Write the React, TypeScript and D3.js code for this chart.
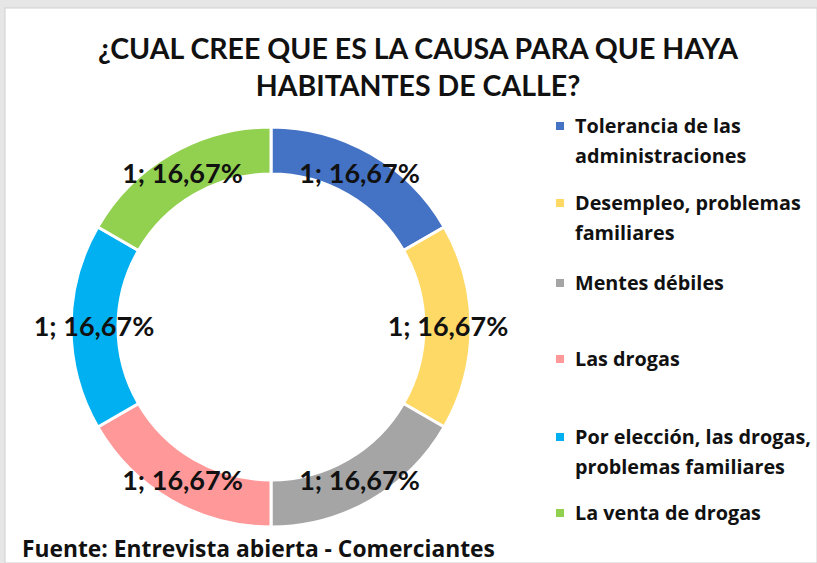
import React, { useEffect, useRef } from 'react';
import * as d3 from 'd3';

const categories = [
  'Tolerancia de las administraciones',
  'Desempleo, problemas familiares',
  'Mentes débiles',
  'Las drogas',
  'Por elección, las drogas, problemas familiares',
  'La venta de drogas',
];
const legendLines = [
  ['Tolerancia de las', 'administraciones'],
  ['Desempleo, problemas', 'familiares'],
  ['Mentes débiles'],
  ['Las drogas'],
  ['Por elección, las drogas,', 'problemas familiares'],
  ['La venta de drogas'],
];
const values = [1, 1, 1, 1, 1, 1];
const colors = ['#4472C4', '#FFD966', '#A5A5A5', '#FF9999', '#00B0F0', '#92D050'];
const legendY = [126, 203, 283, 359, 437, 513];
const titleLines = ['¿CUAL CREE QUE ES LA CAUSA PARA QUE HAYA', 'HABITANTES DE CALLE?'];
const source = 'Fuente: Entrevista abierta - Comerciantes';

export default function App() {
  const svgRef = useRef<SVGSVGElement>(null);

  useEffect(() => {
    if (!svgRef.current) return;
    const W = 817, H = 563;
    const svg = d3.select(svgRef.current);
    svg.selectAll('*').remove();
    svg.attr('width', W).attr('height', H);

    const font = 'Lato, "Open Sans", sans-serif';
    const font2 = '"Open Sans", sans-serif';

    svg.append('rect').attr('width', W).attr('height', H).attr('fill', '#e6e6e6');
    svg.append('rect')
      .attr('x', 5).attr('y', 8).attr('width', W - 5).attr('height', H - 8)
      .attr('fill', '#fff').attr('stroke', '#d0d0d0');

    // title
    svg.append('g').selectAll('text')
      .data(titleLines)
      .enter()
      .append('text')
      .attr('x', 418)
      .attr('y', (d, i) => 59 + i * 37)
      .attr('text-anchor', 'middle')
      .style('font-family', font)
      .style('font-weight', 'bold')
      .style('font-size', '28.5px')
      .style('fill', '#111')
      .text(d => d);

    const cx = 271, cy = 327;
    const outer = 200, inner = 153;
    const pie = d3.pie<number>().sort(null).value(d => d);
    const arcs = pie(values);
    const arc = d3.arc<d3.PieArcDatum<number>>().innerRadius(inner).outerRadius(outer);
    const labelArc = d3.arc<d3.PieArcDatum<number>>().innerRadius(177).outerRadius(177);
    const total = d3.sum(values);

    const g = svg.append('g').attr('transform', `translate(${cx},${cy})`);
    g.selectAll('path')
      .data(arcs)
      .enter()
      .append('path')
      .attr('d', arc)
      .attr('fill', (d, i) => colors[i])
      .attr('stroke', '#fff')
      .attr('stroke-width', 3);

    g.selectAll('text')
      .data(arcs)
      .enter()
      .append('text')
      .attr('transform', d => `translate(${labelArc.centroid(d)})`)
      .attr('text-anchor', 'middle')
      .attr('dy', '0.35em')
      .style('font-family', font)
      .style('font-weight', 'bold')
      .style('font-size', '27px')
      .style('fill', '#111')
      .text(d => `${d.data}; ${(d.data / total * 100).toFixed(2).replace('.', ',')}%`);

    // legend
    const leg = svg.append('g');
    categories.forEach((c, i) => {
      const y = legendY[i];
      leg.append('rect')
        .attr('x', 556).attr('y', y - 4).attr('width', 8).attr('height', 8)
        .attr('fill', colors[i]);
      leg.append('text')
        .attr('x', 575)
        .attr('y', y)
        .style('font-family', font2)
        .style('font-weight', 'bold')
        .style('font-size', '19.8px')
        .style('fill', '#111')
        .selectAll('tspan')
        .data(legendLines[i])
        .enter()
        .append('tspan')
        .attr('x', 575)
        .attr('dy', (d, j) => (j === 0 ? '0.35em' : '1.5em'))
        .text(d => d);
    });

    svg.append('text')
      .attr('x', 22)
      .attr('y', 557)
      .style('font-family', font2)
      .style('font-weight', 'bold')
      .style('font-size', '22.8px')
      .style('fill', '#111')
      .text(source);
  }, []);

  return (
    <div style={{ position: 'absolute', left: 0, top: 0 }}>
      <svg ref={svgRef} style={{ display: 'block' }}></svg>
    </div>
  );
}
